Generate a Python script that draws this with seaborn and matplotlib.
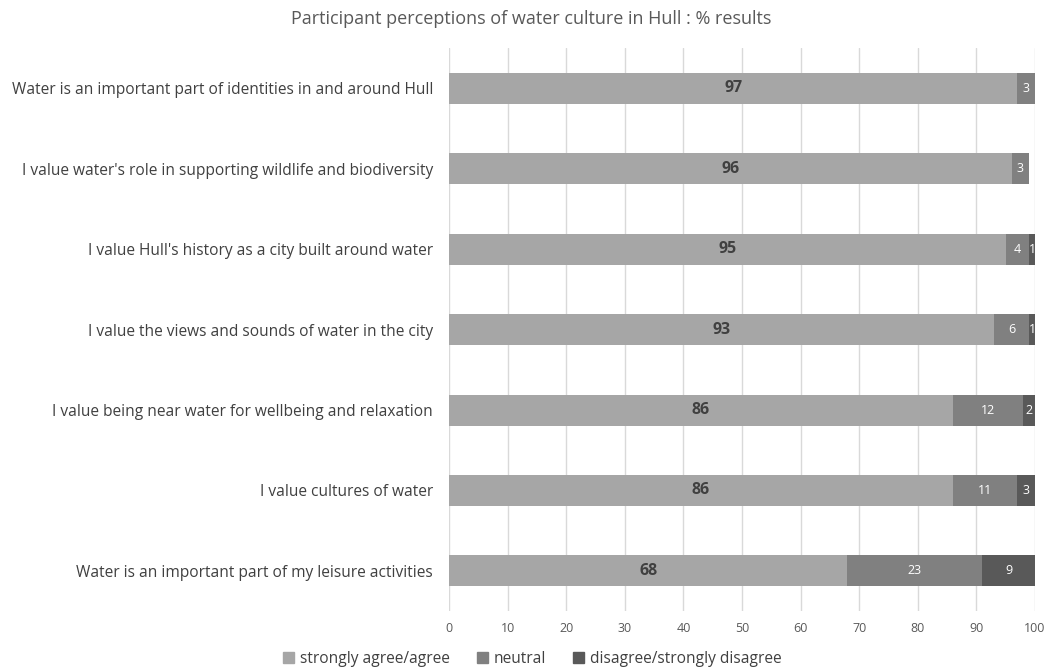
import matplotlib
matplotlib.use("Agg")
import matplotlib.pyplot as plt
import seaborn as sns
import pandas as pd
import numpy as np

statements = [
    "Water is an important part of identities in and around Hull",
    "I value water's role in supporting wildlife and biodiversity",
    "I value Hull's history as a city built around water",
    "I value the views and sounds of water in the city",
    "I value being near water for wellbeing and relaxation",
    "I value cultures of water",
    "Water is an important part of my leisure activities",
]
agree = [97, 96, 95, 93, 86, 86, 68]
neutral = [3, 3, 4, 6, 12, 11, 23]
disagree = [0, 0, 1, 1, 2, 3, 9]

series_names = ["strongly agree/agree", "neutral", "disagree/strongly disagree"]
series_colors = ["#a6a6a6", "#808080", "#595959"]

sns.set_theme(style="white")
plt.rcParams["font.family"] = ["Open Sans", "DejaVu Sans"]

df = pd.DataFrame({"statement": statements,
                   series_names[0]: agree,
                   series_names[1]: neutral,
                   series_names[2]: disagree})

fig = plt.figure(figsize=(10.52, 6.7), dpi=100)
ax = fig.add_axes([0.4268, 0.088, 0.557, 0.84])

# stacked bars: each series drawn at its cumulative length, earlier series on top
left = np.zeros(len(statements))
for k, (name, color) in enumerate(zip(series_names, series_colors)):
    vals = df[name].to_numpy(dtype=float)
    n_before = len(ax.patches)
    sns.barplot(x=left + vals, y=df["statement"], color=color, orient="h",
                width=0.385, ax=ax, edgecolor="none")
    for p in ax.patches[n_before:]:
        p.set_zorder(4 - k)
    left = left + vals
if ax.get_legend() is not None:
    ax.get_legend().remove()

# value labels
cum = np.zeros(len(statements))
for si, name in enumerate(series_names):
    vals = df[name].to_numpy(dtype=float)
    for i, v in enumerate(vals):
        if v > 0:
            cx = cum[i] + v / 2
            if si == 0:
                ax.text(cx, i, f"{int(v)}", ha="center", va="center",
                        fontsize=11.5, fontweight="bold", color="#404040", zorder=6)
            else:
                ax.text(cx, i, f"{int(v)}", ha="center", va="center",
                        fontsize=9, color="white", zorder=6)
    cum += vals

ax.set_xlim(0, 100)
ax.set_ylim(len(statements) - 0.5, -0.5)
ax.set_xticks(range(0, 101, 10))
ax.xaxis.grid(True, color="#d9d9d9", linewidth=1, zorder=0)
ax.set_axisbelow(True)
for s in ax.spines.values():
    s.set_visible(False)
ax.tick_params(axis="x", labelsize=9, colors="#595959", length=0, pad=8)
ax.tick_params(axis="y", labelsize=11.2, colors="#404040", length=0, pad=11.5)
ax.set_xlabel("")
ax.set_ylabel("")

fig.text(0.505, 0.972, "Participant perceptions of water culture in Hull : % results",
         ha="center", va="center", fontsize=13, color="#595959")

handles = [plt.Rectangle((0, 0), 1, 1, color=c) for c in series_colors]
fig.legend(handles, series_names, loc="center", bbox_to_anchor=(0.506, 0.016), ncol=3,
           frameon=False, fontsize=11.2, handlelength=0.7, handleheight=0.7,
           handletextpad=0.4, columnspacing=1.7, labelcolor="#404040")

fig.savefig("out.png", dpi=100)
